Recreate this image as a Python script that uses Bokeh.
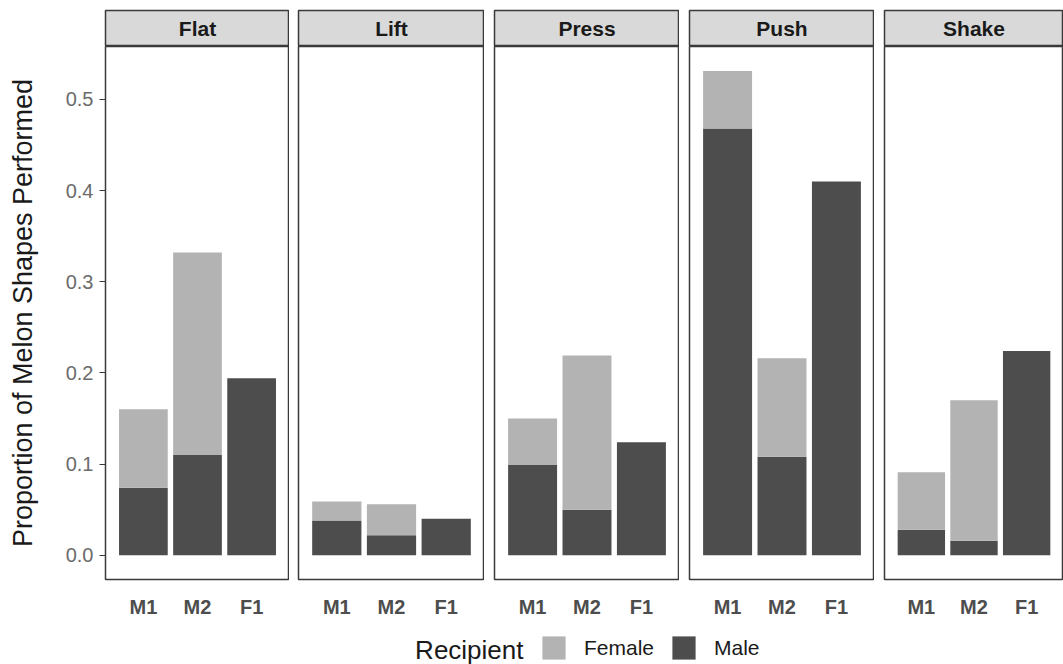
from bokeh.plotting import figure
from bokeh.layouts import row, column
from bokeh.models import (ColumnDataSource, FactorRange, Range1d, Legend, LegendItem,
                          PrintfTickFormatter, FixedTicker)
from bokeh.core.properties import value
from bokeh.embed import file_html
from bokeh.resources import INLINE

# ---------------- data ----------------
facets = ["Flat", "Lift", "Press", "Push", "Shake"]
recipients = ["M1", "M2", "F1"]

male_flat = [0.074, 0.110, 0.194]
female_flat = [0.086, 0.222, 0.0]
male_lift = [0.038, 0.022, 0.040]
female_lift = [0.021, 0.034, 0.0]
male_press = [0.099, 0.050, 0.124]
female_press = [0.051, 0.169, 0.0]
male_push = [0.468, 0.108, 0.410]
female_push = [0.063, 0.108, 0.0]
male_shake = [0.028, 0.016, 0.224]
female_shake = [0.063, 0.154, 0.0]

male = [male_flat, male_lift, male_press, male_push, male_shake]
female = [female_flat, female_lift, female_press, female_push, female_shake]

y_ticks = [0.0, 0.1, 0.2, 0.3, 0.4, 0.5]
y_label = "Proportion of Melon Shapes Performed"
legend_title = "Recipient"
legend_labels = ["Female", "Male"]

# ---------------- style ----------------
FONT = "Liberation Sans"
FEMALE = "#b3b3b3"
MALE = "#4d4d4d"
BORDER = "#3a3a3a"
STRIP = "#d9d9d9"
Y0, Y1 = -0.0266, 0.558

# left border / frame width of each facet figure (pixels)
lefts = [105, 9, 10, 10, 10]
frames = [184, 186, 185, 185, 179]

cols = []
for i, facet in enumerate(facets):
    first = i == 0
    left = lefts[i]
    width = left + frames[i]

    s = figure(width=width, height=46, x_range=Range1d(0, 1), y_range=Range1d(0, 1),
               x_axis_location=None, y_axis_location=None, toolbar_location=None,
               output_backend="svg", min_border_left=left, min_border_right=0,
               min_border_top=10, min_border_bottom=0)
    s.background_fill_color = STRIP
    s.border_fill_color = "white"
    s.outline_line_color = BORDER
    s.outline_line_width = 1.5
    s.xgrid.visible = False
    s.ygrid.visible = False
    s.text(x=[0.5], y=[0.5], text=[facet], text_align="center", text_baseline="middle",
           text_font=value(FONT), text_font_size="21px", text_font_style="bold",
           text_color="#1a1a1a")

    p = figure(width=width, height=574,
               x_range=FactorRange(factors=recipients, range_padding=0.2,
                                   range_padding_units="absolute"),
               y_range=Range1d(Y0, Y1),
               y_axis_location="left" if first else None,
               toolbar_location=None, output_backend="svg",
               min_border_left=left, min_border_right=0, min_border_top=0,
               min_border_bottom=39)
    p.background_fill_color = "white"
    p.border_fill_color = "white"
    p.outline_line_color = BORDER
    p.outline_line_width = 1.5
    p.xgrid.visible = False
    p.ygrid.visible = False

    src = ColumnDataSource(dict(recipient=recipients, Male=male[i], Female=female[i]))
    p.vbar_stack(["Male", "Female"], x="recipient", width=0.9, source=src,
                 fill_color=[MALE, FEMALE], line_color=None)

    xa = p.xaxis[0]
    xa.axis_line_color = None
    xa.major_tick_line_color = None
    xa.minor_tick_line_color = None
    xa.major_label_standoff = 10
    xa.major_label_text_font = FONT
    xa.major_label_text_font_size = "20px"
    xa.major_label_text_font_style = "bold"
    xa.major_label_text_color = "#4d4d4d"

    if first:
        ya = p.yaxis[0]
        ya.ticker = FixedTicker(ticks=y_ticks)
        ya.formatter = PrintfTickFormatter(format="%.1f")
        ya.axis_line_color = None
        ya.major_tick_line_color = BORDER
        ya.major_tick_line_width = 1.2
        ya.major_tick_out = 6
        ya.major_tick_in = 0
        ya.minor_tick_line_color = None
        ya.major_label_standoff = 6
        ya.major_label_text_font = FONT
        ya.major_label_text_font_size = "20px"
        ya.major_label_text_color = "#6b6b6b"
        ya.axis_label = y_label
        ya.axis_label_text_font = FONT
        ya.axis_label_text_font_size = "27px"
        ya.axis_label_text_font_style = "normal"
        ya.axis_label_text_color = "#1a1a1a"
        ya.axis_label_standoff = 25

    cols.append(column(s, p))

# ---------------- legend ----------------
LW, LH = 1063, 44
lg = figure(width=LW, height=LH, x_range=Range1d(0, LW), y_range=Range1d(0, LH),
            x_axis_location=None, y_axis_location=None, toolbar_location=None,
            output_backend="svg", min_border_left=0, min_border_right=0,
            min_border_top=0, min_border_bottom=0)
lg.outline_line_color = None
lg.xgrid.visible = False
lg.ygrid.visible = False
lg.border_fill_color = "white"
lg.background_fill_color = "white"
# legend proxies: one off-canvas point each, so the legend can draw their swatches
proxy = ColumnDataSource(dict(x=[-1000.0], top=[-1000.0]))
rf = lg.vbar(x="x", top="top", width=1, source=proxy, fill_color=FEMALE, line_color=None)
rm = lg.vbar(x="x", top="top", width=1, source=proxy, fill_color=MALE, line_color=None)
lg.text(x=[523], y=[15], text=[legend_title], text_align="right", text_baseline="middle",
        text_font=value(FONT), text_font_size="26px", text_color="#1a1a1a")
legend = Legend(items=[LegendItem(label=legend_labels[0], renderers=[rf]),
                       LegendItem(label=legend_labels[1], renderers=[rm])],
                orientation="horizontal", location=(539, 2),
                glyph_width=29, glyph_height=29, label_height=29,
                label_text_font=FONT, label_text_font_size="21px",
                label_text_color="#1a1a1a", label_text_baseline="middle",
                border_line_color=None, background_fill_alpha=0,
                padding=0, margin=0, spacing=15, label_standoff=16)
lg.add_layout(legend, "center")

layout = column(row(*cols), lg)

open("out.html", "w").write(file_html(layout, INLINE))
